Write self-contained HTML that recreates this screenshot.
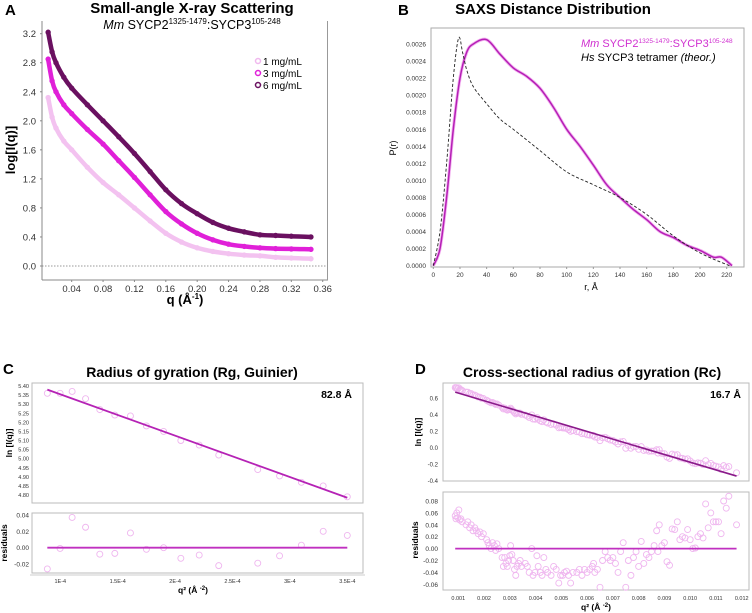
<!DOCTYPE html>
<html><head><meta charset="utf-8"><style>
html,body{margin:0;padding:0;background:#fff;}
svg{display:block;font-family:"Liberation Sans",Arial,sans-serif;}
</style></head><body>
<svg id="fig" width="752" height="613" viewBox="0 0 752 613" xmlns="http://www.w3.org/2000/svg">
<text x="5" y="15" font-size="15" font-weight="bold">A</text>
<text x="192" y="13" font-size="15" font-weight="bold" text-anchor="middle">Small-angle X-ray Scattering</text>
<text x="192" y="29" font-size="12.5" text-anchor="middle"><tspan font-style="italic">Mm</tspan> SYCP2<tspan font-size="8" dy="-5">1325-1479</tspan><tspan dy="5">:SYCP3</tspan><tspan font-size="8" dy="-5">105-248</tspan></text>
<text x="15" y="150" font-size="13" font-weight="bold" text-anchor="middle" transform="rotate(-90 15 150)">log[I(q)]</text>
<text x="185" y="304" font-size="13" font-weight="bold" text-anchor="middle">q (Å<tspan font-size="8" dy="-5">-1</tspan><tspan dy="5">)</tspan></text>
<g>
<circle cx="258" cy="61" r="2.5" fill="none" stroke="#f0b8ee" stroke-width="1.5"/><text x="263" y="65" font-size="10">1 mg/mL</text>
<circle cx="258" cy="73" r="2.5" fill="none" stroke="#e020d8" stroke-width="1.5"/><text x="263" y="77" font-size="10">3 mg/mL</text>
<circle cx="258" cy="85" r="2.5" fill="none" stroke="#6a1060" stroke-width="1.5"/><text x="263" y="89" font-size="10">6 mg/mL</text>
</g>
<text x="398" y="15" font-size="15" font-weight="bold">B</text>
<text x="553" y="14" font-size="15" font-weight="bold" text-anchor="middle">SAXS Distance Distribution</text>
<text x="396" y="148" font-size="9" text-anchor="middle" transform="rotate(-90 396 148)">P(r)</text>
<text x="591" y="290" font-size="9" text-anchor="middle">r, Å</text>
<g>
<text x="581" y="47" font-size="11" fill="#d030d0"><tspan font-style="italic">Mm</tspan> SYCP2<tspan font-size="6.5" dy="-4">1325-1479</tspan><tspan dy="4">:SYCP3</tspan><tspan font-size="6.5" dy="-4">105-248</tspan></text>
<text x="581" y="61" font-size="11"><tspan font-style="italic">Hs</tspan> SYCP3 tetramer <tspan font-style="italic">(theor.)</tspan></text>
</g>
<text x="3" y="374" font-size="15" font-weight="bold">C</text>
<text x="192" y="377" font-size="14" font-weight="bold" text-anchor="middle">Radius of gyration (Rg, Guinier)</text>
<text x="352" y="398" font-size="10.5" font-weight="bold" text-anchor="end">82.8 Å</text>
<text x="12" y="443" font-size="8.5" font-weight="bold" text-anchor="middle" transform="rotate(-90 12 443)">ln [I(q)]</text>
<text x="7" y="543" font-size="8.5" font-weight="bold" text-anchor="middle" transform="rotate(-90 7 543)">residuals</text>
<text x="193" y="593" font-size="8.5" font-weight="bold" text-anchor="middle">q² (Å <tspan font-size="6" dy="-3">-2</tspan><tspan dy="3">)</tspan></text>
<text x="415" y="374" font-size="15" font-weight="bold">D</text>
<text x="592" y="377" font-size="14" font-weight="bold" text-anchor="middle">Cross-sectional radius of gyration (Rc)</text>
<text x="741" y="398" font-size="10.5" font-weight="bold" text-anchor="end">16.7 Å</text>
<text x="421" y="432" font-size="8.5" font-weight="bold" text-anchor="middle" transform="rotate(-90 421 432)">ln [I(q)]</text>
<text x="418" y="540" font-size="8.5" font-weight="bold" text-anchor="middle" transform="rotate(-90 418 540)">residuals</text>
<text x="596" y="610" font-size="8.5" font-weight="bold" text-anchor="middle">q² (Å <tspan font-size="6" dy="-3">-2</tspan><tspan dy="3">)</tspan></text>
</svg>
<script>
const aQ = [0.010,0.015,0.020,0.030,0.040,0.060,0.080,0.100,0.120,0.140,0.160,0.180,0.200,0.220,0.240,0.260,0.280,0.300,0.320,0.345];
const a6 = [3.22,2.95,2.80,2.60,2.45,2.22,2.00,1.78,1.55,1.30,1.05,0.86,0.72,0.60,0.52,0.47,0.43,0.42,0.41,0.40];
const a3 = [2.85,2.55,2.40,2.22,2.10,1.88,1.68,1.45,1.22,0.98,0.75,0.58,0.45,0.36,0.30,0.27,0.25,0.24,0.235,0.23];
const a1 = [2.32,2.05,1.90,1.72,1.60,1.36,1.15,0.98,0.80,0.62,0.45,0.33,0.25,0.20,0.17,0.15,0.14,0.12,0.11,0.10];
const aYTicks = [0.0,0.4,0.8,1.2,1.6,2.0,2.4,2.8,3.2];
const aXTicks = [0.04,0.08,0.12,0.16,0.20,0.24,0.28,0.32,0.36];
const bR = [0,5,10,15,20,25,30,40,50,60,70,80,90,100,110,120,130,140,150,160,170,180,190,200,210,216,224];
const bMm = [0,0.0002,0.0008,0.0016,0.0022,0.0025,0.0026,0.00265,0.00248,0.00232,0.00222,0.00208,0.00186,0.0016,0.0014,0.00118,0.00095,0.0008,0.00066,0.00054,0.0004,0.00033,0.00024,0.00018,0.0001,0.0001,0];
const bHsR = [0,5,10,15,19,22,25,30,40,50,60,80,100,120,140,160,180,200,222];
const bHs = [0,0.0004,0.0012,0.0022,0.00267,0.0025,0.0023,0.0021,0.0019,0.00172,0.0016,0.00135,0.0011,0.00095,0.0008,0.0006,0.00035,0.00015,0];
const bYTicks = [0,0.0002,0.0004,0.0006,0.0008,0.0010,0.0012,0.0014,0.0016,0.0018,0.0020,0.0022,0.0024,0.0026];
const bYLabels = ["0.0000","0.0002","0.0004","0.0006","0.0008","0.0010","0.0012","0.0014","0.0016","0.0018","0.0020","0.0022","0.0024","0.0026"];
const bXTicks = [0,20,40,60,80,100,120,140,160,180,200,220];
const cQ2 = [0.887e-4,0.998e-4,1.103e-4,1.22e-4,1.344e-4,1.475e-4,1.611e-4,1.75e-4,1.9e-4,2.05e-4,2.21e-4,2.38e-4,2.72e-4,2.91e-4,3.10e-4,3.29e-4,3.50e-4];
const cLnI = [5.36,5.36,5.37,5.33,5.27,5.24,5.235,5.18,5.15,5.10,5.075,5.02,4.94,4.905,4.87,4.85,4.79];
const cRes = [-0.026,-0.001,0.037,0.025,-0.008,-0.007,0.018,-0.002,0.0,-0.013,-0.009,-0.022,-0.019,-0.01,0.003,0.02,0.015];
const cFit = [5.38,4.785];
const cYTicks = [4.80,4.85,4.90,4.95,5.00,5.05,5.10,5.15,5.20,5.25,5.30,5.35,5.40];
const cRTicks = [-0.02,0.00,0.02,0.04];
const cXTicks = [1e-4,1.5e-4,2e-4,2.5e-4,3e-4,3.5e-4];
const cXLabels = ["1E-4","1.5E-4","2E-4","2.5E-4","3E-4","3.5E-4"];
const dQ2 = [0.00088,0.00091,0.00094,0.00098,0.00102,0.00106,0.0011,0.00115,
0.0013,0.00137,0.00144,0.0015,0.00157,0.00164,0.0017,0.00177,0.00184,0.0019,0.00197,
0.0021,0.00215,0.0022,0.00227,0.00233,0.0024,0.00245,0.0025,0.00257,
0.0027,0.00275,0.0028,0.00285,0.0029,0.00295,0.003,0.00303,0.00308,0.00313,0.00318,0.00323,0.00328,0.00334,0.0034,0.00345,
0.0036,0.00368,0.00375,0.00385,0.0039,0.00398,0.00405,0.0041,0.00418,0.00425,0.00432,0.0044,0.00447,
0.0046,0.0047,0.0048,0.0049,0.00497,0.00505,0.00512,0.0052,0.00528,0.00536,0.00545,
0.0056,0.0057,0.0058,0.0059,0.006,0.0061,0.0062,0.00625,0.0063,0.0064,0.0065,
0.0066,0.0067,0.0068,0.0069,0.007,0.0071,0.0072,0.0073,0.0074,0.0075,
0.0076,0.0077,0.0078,0.0079,0.008,0.0081,0.0082,0.0083,0.0084,0.0085,0.0086,
0.0087,0.00875,0.0088,0.0089,0.009,0.0091,0.0092,0.0093,0.0094,0.0095,
0.0096,0.0097,0.0098,0.0099,0.01,0.0101,0.0102,0.0103,0.0104,0.0105,
0.0106,0.0107,0.0108,0.0109,0.011,0.0111,0.0112,0.0113,0.0114,0.0115,0.0118];
const dRes = [0.055,0.05,0.06,0.052,0.065,0.048,0.05,0.045,
0.04,0.045,0.035,0.04,0.03,0.035,0.03,0.025,0.028,0.02,0.025,
0.015,0.01,0.005,0.0,0.01,0.005,-0.003,0.008,0.0,
-0.015,-0.03,-0.015,-0.025,-0.03,-0.02,-0.012,0.005,-0.01,-0.02,-0.035,-0.045,-0.03,-0.025,-0.02,-0.03,
-0.025,-0.03,-0.04,0.0,-0.045,-0.04,-0.012,-0.03,-0.04,-0.045,-0.015,-0.035,-0.04,
-0.045,-0.03,-0.035,-0.058,-0.045,-0.045,-0.04,-0.038,-0.045,-0.058,-0.04,
-0.04,-0.035,-0.045,-0.035,-0.04,-0.035,-0.03,-0.025,-0.04,-0.035,-0.065,
-0.02,-0.005,-0.015,-0.02,-0.015,-0.025,-0.04,-0.005,0.01,-0.065,
-0.02,-0.045,-0.015,-0.005,-0.03,0.012,-0.025,-0.01,-0.015,-0.005,0.005,
0.03,-0.005,0.04,0.005,0.01,-0.022,-0.028,0.033,0.032,0.045,
0.015,0.02,0.018,0.032,0.015,0.0,0.001,0.02,0.025,0.018,
0.075,0.035,0.06,0.045,0.045,0.045,0.025,0.08,0.068,0.088,0.04];
const dFitQ = [0.00088,0.0118];
const dFit = [0.68,-0.34];
const dYTicks = [-0.4,-0.2,0.0,0.2,0.4,0.6];
const dRTicks = [-0.06,-0.04,-0.02,0.00,0.02,0.04,0.06,0.08];
const dXTicks = [0.001,0.002,0.003,0.004,0.005,0.006,0.007,0.008,0.009,0.010,0.011,0.012];

const svg = document.getElementById('fig');
const NS = 'http://www.w3.org/2000/svg';
function mk(tag, attrs, parent) {
  const e = document.createElementNS(NS, tag);
  for (const k in attrs) e.setAttribute(k, attrs[k]);
  (parent || svg).appendChild(e);
  return e;
}
function lin(d0, d1, r0, r1) { return v => r0 + (v - d0) * (r1 - r0) / (d1 - d0); }
function smoothPath(xs, ys) {
  let d = 'M' + xs[0].toFixed(1) + ',' + ys[0].toFixed(1);
  for (let i = 0; i < xs.length - 1; i++) {
    const x0 = xs[Math.max(i - 1, 0)], y0 = ys[Math.max(i - 1, 0)];
    const x1 = xs[i], y1 = ys[i], x2 = xs[i + 1], y2 = ys[i + 1];
    const x3 = xs[Math.min(i + 2, xs.length - 1)], y3 = ys[Math.min(i + 2, xs.length - 1)];
    d += ' C' + (x1 + (x2 - x0) / 6).toFixed(1) + ',' + (y1 + (y2 - y0) / 6).toFixed(1) + ' ' +
      (x2 - (x3 - x1) / 6).toFixed(1) + ',' + (y2 - (y3 - y1) / 6).toFixed(1) + ' ' + x2.toFixed(1) + ',' + y2.toFixed(1);
  }
  return d;
}
function label(x, y, txt, size, anchor, parent) {
  const t = mk('text', {x: x, y: y, 'font-size': size, 'text-anchor': anchor, fill: '#333'}, parent);
  t.textContent = txt;
  return t;
}

// Panel A
const ax = lin(0, 0.36, 40.3, 322.7), ay = lin(0, 3.2, 266, 33.7);
const gA = mk('g', {});


const aAxisL = mk('line', {x1: 42, y1: 21, x2: 42, y2: 280, stroke: '#888', 'stroke-width': 1}, gA);


const aAxisB = mk('line', {x1: 42, y1: 280, x2: 328, y2: 280, stroke: '#888', 'stroke-width': 1}, gA);


mk('line', {x1: 327.5, y1: 21, x2: 327.5, y2: 280, stroke: '#999', 'stroke-width': 1}, gA);
const zl = mk('line', {x1: 42, y1: ay(0), x2: 327, y2: ay(0), stroke: '#777', 'stroke-width': 0.7, 'stroke-dasharray': '1.5,1.5'}, gA);


aYTicks.forEach(v => {
  const t = label(36, ay(v) + 3.5, v.toFixed(1), 9.5, 'end', gA);
  
  
  mk('line', {x1: 40, y1: ay(v), x2: 42, y2: ay(v), stroke: '#888'}, gA);
});
aXTicks.forEach(v => {
  const t = label(ax(v), 292, v.toFixed(2), 9.5, 'middle', gA);
  
  
  mk('line', {x1: ax(v), y1: 280, x2: ax(v), y2: 282, stroke: '#888'}, gA);
});
[[a1, '#f3c2f0', 'series-1-mg-ml'], [a3, '#e020d8', 'series-3-mg-ml'], [a6, '#6a1060', 'series-6-mg-ml']].forEach(s => {
  const g = mk('g', {}, gA);
  
  
  const p = mk('path', {d: smoothPath(aQ.map(ax), s[0].map(ay)), fill: 'none', stroke: s[1], 'stroke-width': 4.5, 'stroke-linecap': 'round'}, g);
  
  
  aQ.forEach((q, i) => {
    const c = mk('circle', {cx: ax(q), cy: ay(s[0][i]), r: 2.2, fill: 'none', stroke: s[1], 'stroke-width': 1}, g);
    
    
  });
});

// Panel B
const bx = lin(0, 220, 433.3, 726.7), by = lin(0, 0.0026, 265.7, 44);
const gB = mk('g', {});


const bFrame = mk('rect', {x: 431, y: 28, width: 313, height: 239, fill: 'none', stroke: '#aaa', 'stroke-width': 1}, gB);


bYTicks.forEach((v, i) => {
  const t = label(426, by(v) + 2.5, bYLabels[i], 6.5, 'end', gB);
  
  
});
bXTicks.forEach(v => {
  const t = label(bx(v), 277, String(v), 6.5, 'middle', gB);
  
  
  mk('line', {x1: bx(v), y1: 267, x2: bx(v), y2: 269, stroke: '#999'}, gB);
});
const bHalo = mk('path', {d: smoothPath(bR.map(bx), bMm.map(by)), fill: 'none', stroke: '#f2b0f0', 'stroke-width': 3.2}, gB);


const bLine = mk('path', {d: smoothPath(bR.map(bx), bMm.map(by)), fill: 'none', stroke: '#b51fb5', 'stroke-width': 1.5}, gB);


const bDash = mk('path', {d: smoothPath(bHsR.map(bx), bHs.map(by)), fill: 'none', stroke: '#222', 'stroke-width': 0.9, 'stroke-dasharray': '3,2'}, gB);



// Panel C
const cx = lin(1e-4, 3.5e-4, 60.3, 347.3), cy = lin(4.80, 5.40, 495, 386), cry = lin(-0.02, 0.04, 564, 515);
const gC = mk('g', {});


const cf1 = mk('rect', {x: 32, y: 383, width: 331, height: 120, fill: 'none', stroke: '#bbb'}, gC);


const cf2 = mk('rect', {x: 32, y: 513, width: 331, height: 60, fill: 'none', stroke: '#bbb'}, gC);


mk('line', {x1: 30, y1: 575, x2: 365, y2: 575, stroke: '#ccc'}, gC);
cYTicks.forEach(v => {
  const t = label(29, cy(v) + 2, v.toFixed(2), 5.5, 'end', gC);
  
  
});
cRTicks.forEach(v => {
  const t = label(29, cry(v) + 2.5, v.toFixed(2), 6.5, 'end', gC);
  
  
});
cXTicks.forEach((v, i) => {
  const t = label(cx(v), 583, cXLabels[i], 5.5, 'middle', gC);
  
  
});
cQ2.forEach((q, i) => {
  const c = mk('circle', {cx: cx(q), cy: cy(cLnI[i]), r: 3, fill: 'none', stroke: '#efb6ef', 'stroke-width': 0.9}, gC);
  
  
  const r = mk('circle', {cx: cx(q), cy: cry(cRes[i]), r: 3, fill: 'none', stroke: '#efb6ef', 'stroke-width': 0.9}, gC);
  
  
});
const cFitLine = mk('line', {x1: cx(cQ2[0]), y1: cy(cFit[0]), x2: cx(cQ2[cQ2.length - 1]), y2: cy(cFit[1]), stroke: '#b522b5', 'stroke-width': 1.8}, gC);


const cZero = mk('line', {x1: cx(cQ2[0]), y1: cry(0), x2: cx(cQ2[cQ2.length - 1]), y2: cry(0), stroke: '#c030c0', 'stroke-width': 1.8}, gC);



// Panel D
const dx = lin(0.001, 0.012, 458.3, 741.7), dy = lin(-0.4, 0.6, 481, 398.7), dry = lin(-0.06, 0.08, 584.3, 501);
const dSlope = (dFit[1] - dFit[0]) / (dFitQ[1] - dFitQ[0]);
const gD = mk('g', {});


const df1 = mk('rect', {x: 443, y: 383, width: 306, height: 98, fill: 'none', stroke: '#bbb'}, gD);


const df2 = mk('rect', {x: 443, y: 492, width: 306, height: 98, fill: 'none', stroke: '#bbb'}, gD);


dYTicks.forEach(v => {
  const t = label(438, dy(v) + 2, v.toFixed(1), 6, 'end', gD);
  
  
});
dRTicks.forEach(v => {
  const t = label(438, dry(v) + 2.5, v.toFixed(2), 6.5, 'end', gD);
  
  
});
dXTicks.forEach(v => {
  const t = label(dx(v), 600, v.toFixed(3), 5.5, 'middle', gD);
  
  
});
dQ2.forEach((q, i) => {
  const fitv = dFit[0] + dSlope * (q - dFitQ[0]);
  const c = mk('circle', {cx: dx(q), cy: dy(fitv + dRes[i]), r: 3, fill: 'none', stroke: '#efb6ef', 'stroke-width': 0.9}, gD);
  
  
  const r = mk('circle', {cx: dx(q), cy: dry(dRes[i]), r: 3, fill: 'none', stroke: '#efb6ef', 'stroke-width': 0.9}, gD);
  
  
});
const dFitLine = mk('line', {x1: dx(dFitQ[0]), y1: dy(dFit[0]), x2: dx(dFitQ[1]), y2: dy(dFit[1]), stroke: '#8a1a8a', 'stroke-width': 1.6}, gD);


const dZero = mk('line', {x1: dx(dFitQ[0]), y1: dry(0), x2: dx(dFitQ[1]), y2: dry(0), stroke: '#c030c0', 'stroke-width': 1.8}, gD);


</script>
</body></html>
